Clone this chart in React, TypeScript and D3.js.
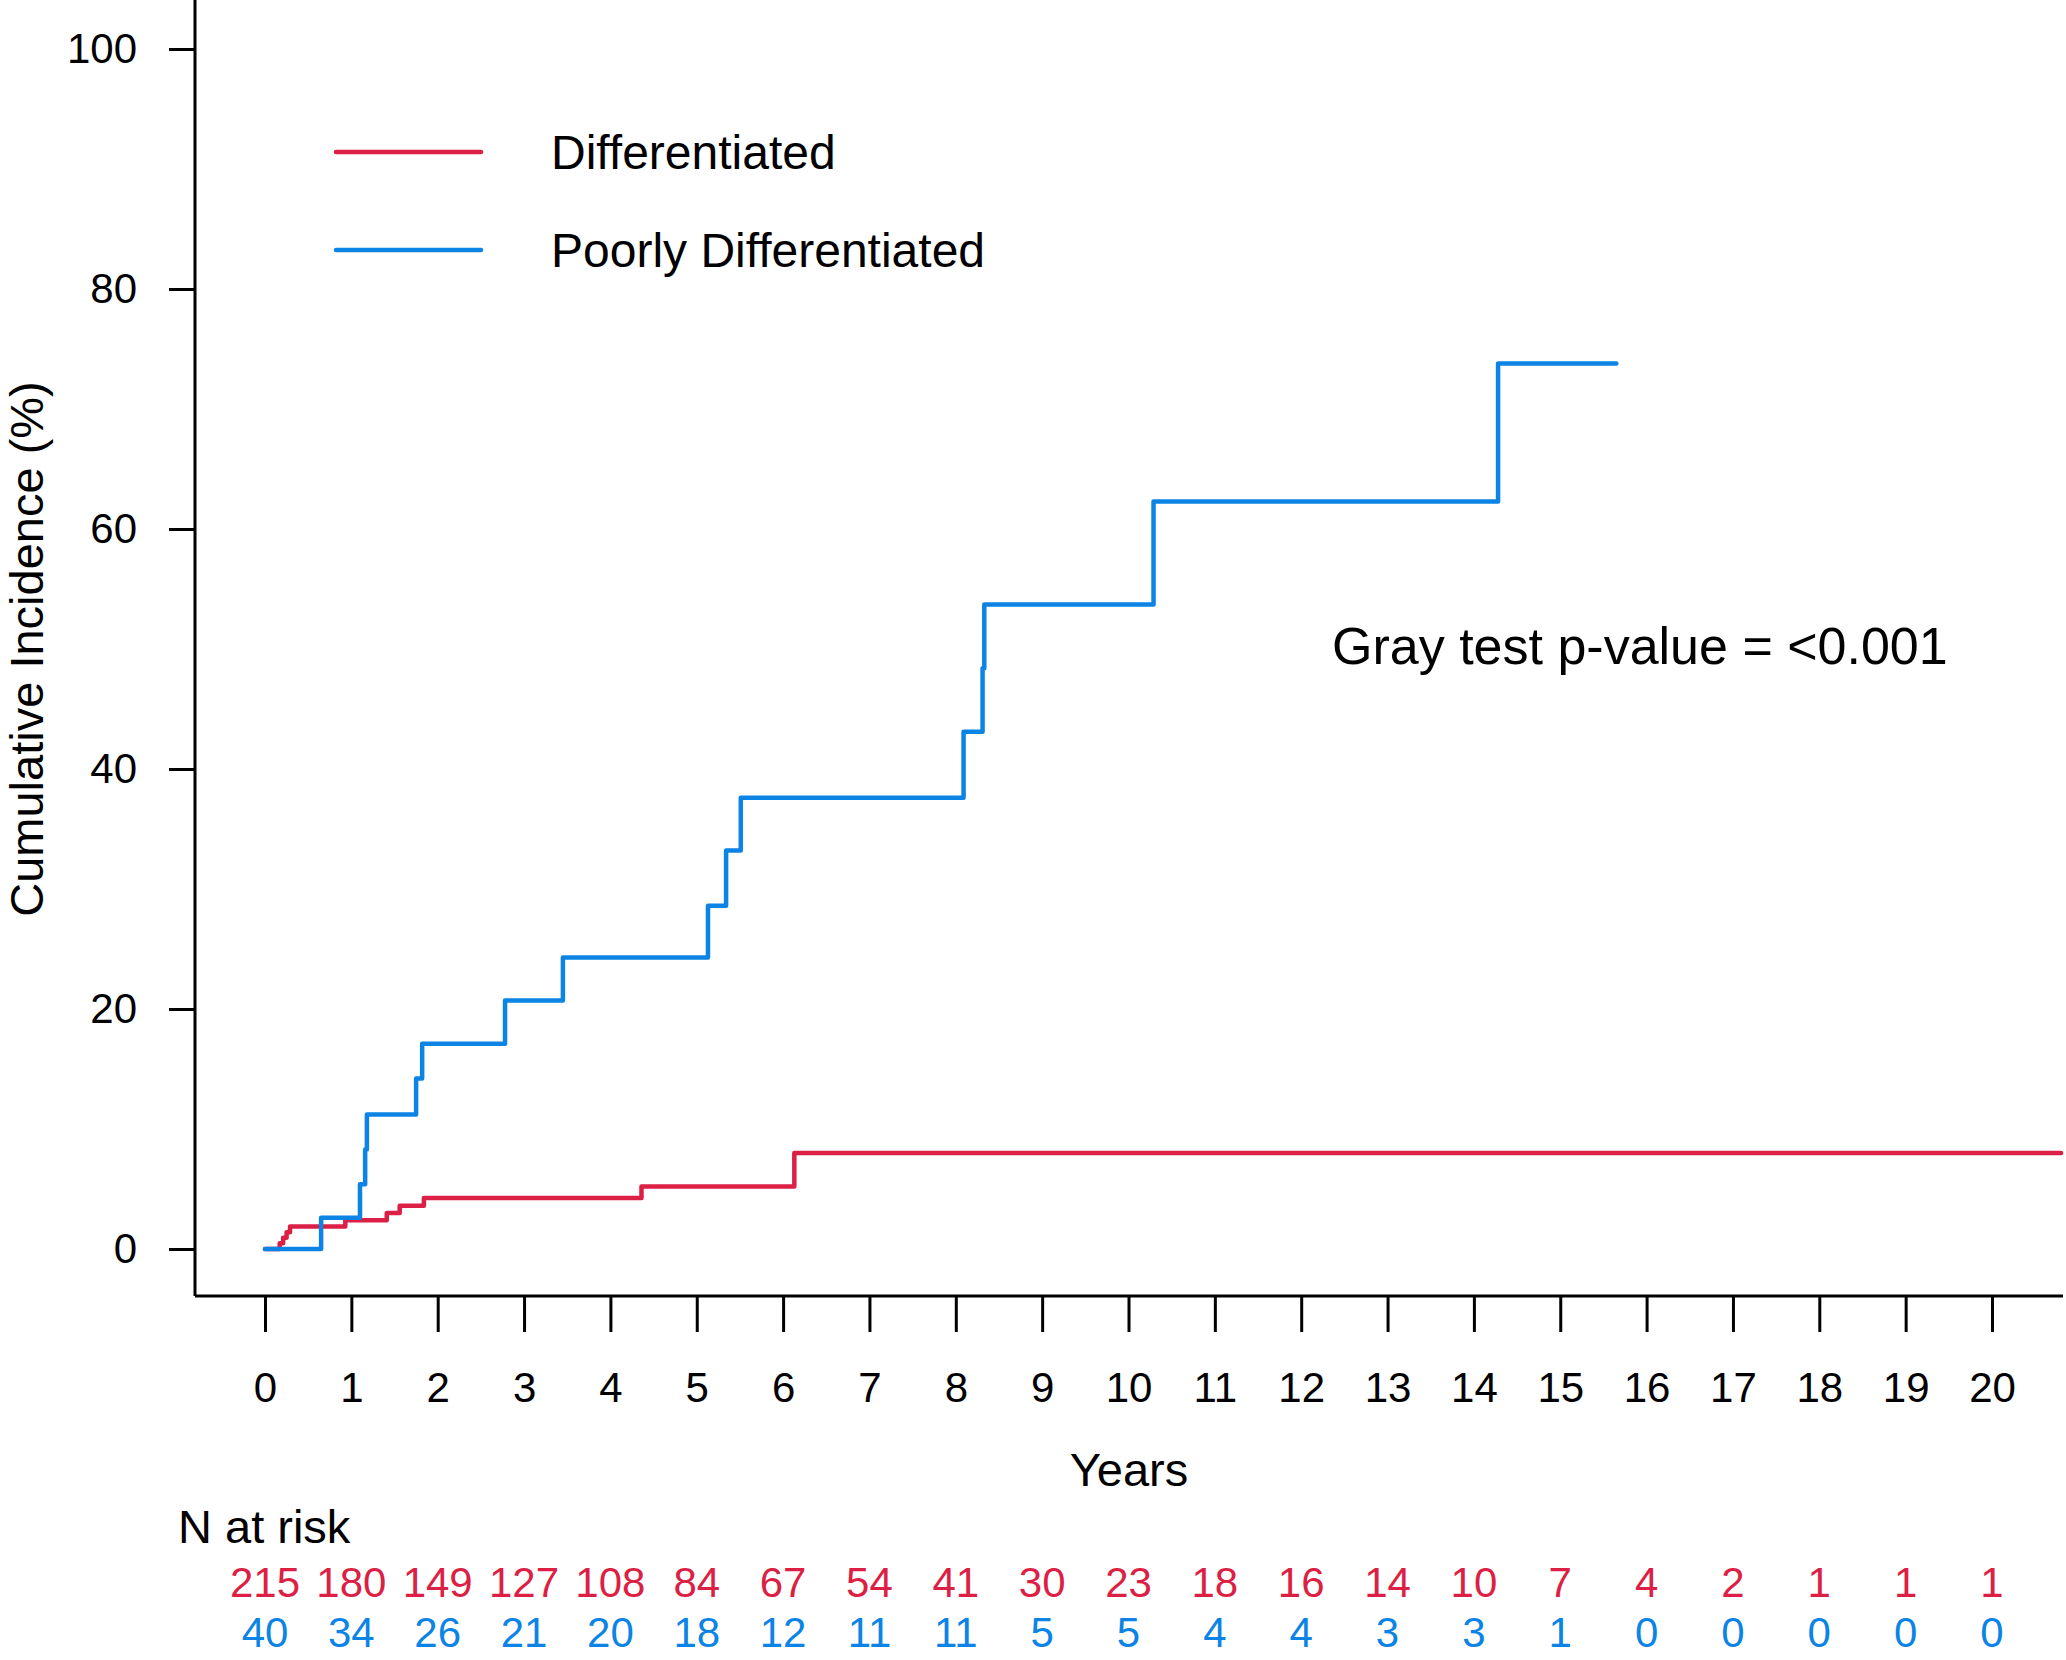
import { useRef, useEffect } from "react";
import * as d3 from "d3";

const RED = "#dc1f45";
const BLUE = "#0b84e6";
const FONT = '"Liberation Sans", Arial, Helvetica, sans-serif';

// step curves (years, cumulative incidence %)
const diffTimes = [0, 0.17, 0.21, 0.25, 0.29, 0.93, 1.41, 1.56, 1.84, 4.36, 6.13, 20.8];
const diffValues = [0, 0.47, 0.94, 1.4, 1.87, 2.4, 3.0, 3.6, 4.25, 5.2, 8.0, 8.0];

const poorTimes = [0, 0.65, 1.1, 1.16, 1.18, 1.75, 1.82, 2.78, 3.45, 5.13, 5.34, 5.51, 8.09, 8.31, 8.33, 10.29, 14.28, 15.65];
const poorValues = [0, 2.6, 5.4, 8.3, 11.2, 14.2, 17.1, 20.7, 24.3, 28.6, 33.2, 37.6, 43.1, 48.4, 53.7, 62.3, 73.8, 73.8];

const yearTicks = d3.range(0, 21);
const incidenceTicks = [0, 20, 40, 60, 80, 100];

const diffAtRisk = [215, 180, 149, 127, 108, 84, 67, 54, 41, 30, 23, 18, 16, 14, 10, 7, 4, 2, 1, 1, 1];
const poorAtRisk = [40, 34, 26, 21, 20, 18, 12, 11, 11, 5, 5, 4, 4, 3, 3, 1, 0, 0, 0, 0, 0];

const legendLabels = ["Differentiated", "Poorly Differentiated"];

export default function App() {
  const svgRef = useRef<SVGSVGElement>(null);

  useEffect(() => {
    if (!svgRef.current) return;
    const width = 2066;
    const height = 1660;
    const axisX = 195;
    const axisY = 1296;

    const svg = d3.select(svgRef.current);
    svg.selectAll("*").remove();
    svg.attr("width", width).attr("height", height).attr("viewBox", `0 0 ${width} ${height}`);

    svg.append("rect").attr("width", width).attr("height", height).attr("fill", "#fff");

    const x = d3.scaleLinear().domain([0, 20]).range([265, 1992]);
    const y = d3.scaleLinear().domain([0, 100]).range([1249, 49]);

    // axis frame (L shape)
    svg.append("line")
      .attr("x1", axisX).attr("x2", axisX).attr("y1", 0).attr("y2", axisY)
      .attr("stroke", "#000").attr("stroke-width", 3);
    svg.append("line")
      .attr("x1", axisX).attr("x2", 2063).attr("y1", axisY).attr("y2", axisY)
      .attr("stroke", "#000").attr("stroke-width", 3);

    const yAxis = svg.append("g")
      .attr("transform", `translate(${axisX},0)`)
      .call(d3.axisLeft(y).tickValues(incidenceTicks).tickSize(26).tickPadding(32));
    yAxis.select(".domain").remove();
    yAxis.selectAll("line").attr("stroke", "#000").attr("stroke-width", 3);
    yAxis.selectAll("text")
      .attr("font-family", FONT).attr("font-size", 42).attr("fill", "#000");

    const xAxis = svg.append("g")
      .attr("transform", `translate(0,${axisY})`)
      .call(d3.axisBottom(x).tickValues(yearTicks).tickSize(36).tickPadding(40).tickFormat(d3.format("d")));
    xAxis.select(".domain").remove();
    xAxis.selectAll("line").attr("stroke", "#000").attr("stroke-width", 3);
    xAxis.selectAll("text")
      .attr("font-family", FONT).attr("font-size", 42).attr("fill", "#000");

    // axis titles
    svg.append("text")
      .attr("transform", `translate(27,649) rotate(-90)`)
      .attr("text-anchor", "middle")
      .attr("dy", "0.35em")
      .attr("font-family", FONT).attr("font-size", 47)
      .text("Cumulative Incidence (%)");

    svg.append("text")
      .attr("x", (axisX + 2063) / 2).attr("y", 1470)
      .attr("text-anchor", "middle")
      .attr("dy", "0.35em")
      .attr("font-family", FONT).attr("font-size", 47)
      .text("Years");

    // curves
    const line = d3.line<[number, number]>()
      .x((d) => x(d[0]))
      .y((d) => y(d[1]))
      .curve(d3.curveStepAfter);

    const series = [
      { times: diffTimes, values: diffValues, color: RED },
      { times: poorTimes, values: poorValues, color: BLUE },
    ];
    series.forEach((s) => {
      const pts = s.times.map((t, i) => [t, s.values[i]] as [number, number]);
      svg.append("path")
        .attr("d", line(pts))
        .attr("fill", "none")
        .attr("stroke", s.color)
        .attr("stroke-width", 4.5)
        .attr("stroke-linejoin", "round")
        .attr("stroke-linecap", "round");
    });

    // legend
    const legend = svg.append("g");
    legendLabels.forEach((label, i) => {
      const ly = 152 + i * 98;
      legend.append("line")
        .attr("x1", 336).attr("x2", 481).attr("y1", ly).attr("y2", ly)
        .attr("stroke", i === 0 ? RED : BLUE).attr("stroke-width", 4.5)
        .attr("stroke-linecap", "round");
      legend.append("text")
        .attr("x", 551).attr("y", ly)
        .attr("dy", "0.35em")
        .attr("font-family", FONT).attr("font-size", 48)
        .text(label);
    });

    svg.append("text")
      .attr("x", 1332).attr("y", 646)
      .attr("dy", "0.35em")
      .attr("font-family", FONT).attr("font-size", 52)
      .text("Gray test p-value = <0.001");

    // numbers at risk
    svg.append("text")
      .attr("x", 178).attr("y", 1527)
      .attr("dy", "0.35em")
      .attr("font-family", FONT).attr("font-size", 47)
      .text("N at risk");

    const rows = [
      { counts: diffAtRisk, color: RED, cy: 1582 },
      { counts: poorAtRisk, color: BLUE, cy: 1632 },
    ];
    rows.forEach((r) => {
      svg.append("g")
        .selectAll("text")
        .data(r.counts)
        .join("text")
        .attr("x", (_, i) => x(yearTicks[i]))
        .attr("y", r.cy)
        .attr("dy", "0.35em")
        .attr("text-anchor", "middle")
        .attr("font-family", FONT).attr("font-size", 42)
        .attr("fill", r.color)
        .text((d) => d);
    });
  }, []);

  return <svg ref={svgRef} style={{ position: "absolute", left: 0, top: 0, display: "block" }} />;
}
